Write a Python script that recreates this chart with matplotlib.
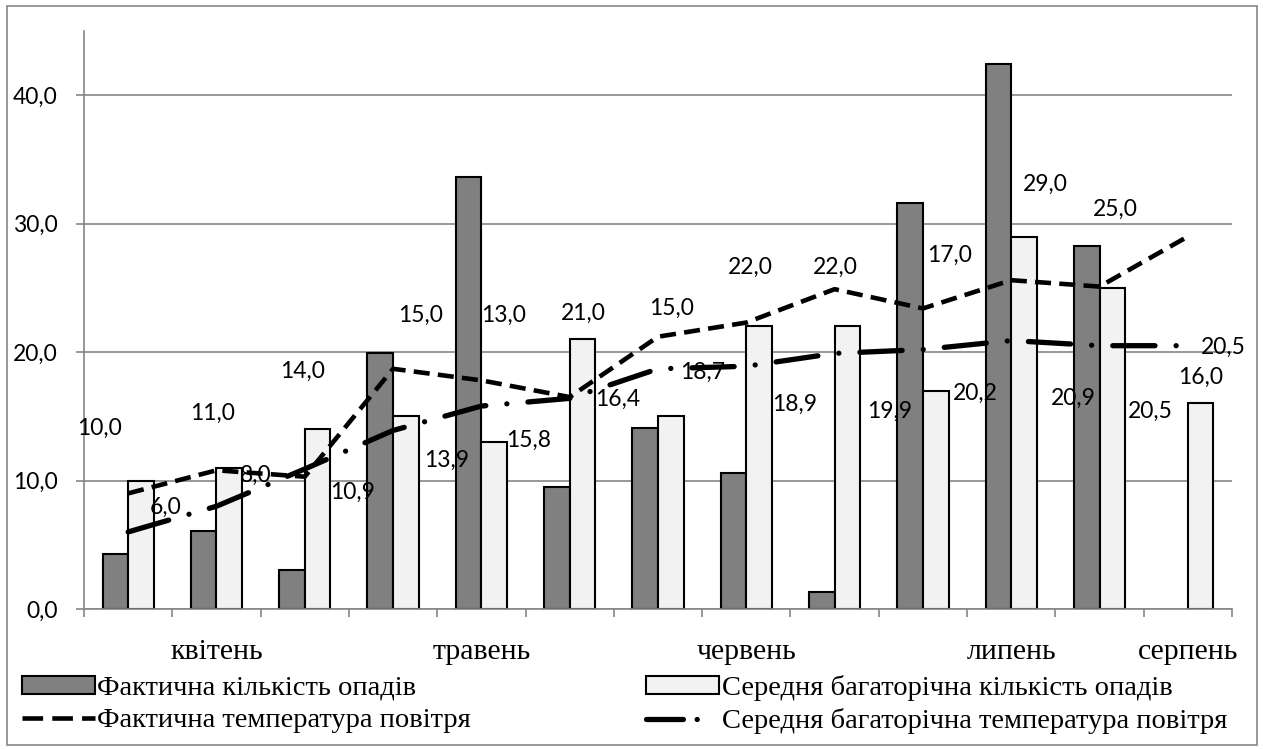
import numpy as np
import matplotlib
matplotlib.use('Agg')
import matplotlib.pyplot as plt
from matplotlib.patches import Rectangle, Patch
from matplotlib.lines import Line2D

# ============================================================
#  数据
# ============================================================
months = ['квітень', 'травень', 'червень', 'липень', 'серпень']
month_idx = [1, 4, 7, 10, 12]          # 月份标签所在的旬编号

precip_actual = [4.3, 6.1, 3.0, 19.9, 33.6, 9.5, 14.1, 10.6, 1.3, 31.6, 42.4, 28.3, np.nan]
precip_avg = [10.0, 11.0, 14.0, 15.0, 13.0, 21.0, 15.0, 22.0, 22.0, 17.0, 29.0, 25.0, 16.0]
temp_actual = [9.0, 10.8, 10.3, 18.7, 17.8, 16.5, 21.2, 22.3, 24.9, 23.4, 25.6, 25.1, 29.0]
temp_avg = [6.0, 8.0, 10.9, 13.9, 15.8, 16.4, 18.7, 18.9, 19.9, 20.2, 20.9, 20.5, 20.5]

series_names = ['Фактична кількість опадів',
                'Середня багаторічна кількість опадів',
                'Фактична температура повітря',
                'Середня багаторічна температура повітря']

# 标签位置（数据坐标）
precip_lbl_xy = [(-0.32, 14.1), (0.96, 15.2), (1.98, 18.5), (3.31, 22.9), (4.25, 22.9),
                 (5.15, 23.0), (6.15, 23.4), (7.05, 26.6), (8.01, 26.6), (9.30, 27.5),
                 (10.39, 33.1), (11.18, 31.1), (12.14, 18.0)]
temp_lbl_xy = [(0.42, 7.9), (1.44, 10.4), (2.54, 9.1), (3.61, 11.6), (4.53, 13.1),
               (5.54, 16.3), (6.51, 18.4), (7.55, 15.9), (8.62, 15.4), (9.59, 16.8),
               (10.70, 16.4), (11.58, 15.4), (12.40, 20.4)]

# ============================================================
#  样式
# ============================================================
W, H = 1263, 749
NUM_FONT = ['Lato', 'DejaVu Sans']
TXT_FONT = ['Liberation Serif', 'DejaVu Serif']
GRID_C = '#868686'
DARK = '#808080'
LIGHT = '#F2F2F2'
DASH = (0, (3.5, 1.8))
DASHDOT = (0, (8, 4, 0.01, 4))

fig = plt.figure(figsize=(W / 100, H / 100), dpi=100)
ax = fig.add_axes([84 / W, 1 - 609 / H, (1232 - 84) / W, (609 - 31) / H])

n = len(precip_avg)
x = np.arange(n)
bw = 0.29

ax.bar(x - bw / 2, precip_actual, bw, color=DARK, edgecolor='black', linewidth=1.5, zorder=2)
ax.bar(x + bw / 2, precip_avg, bw, color=LIGHT, edgecolor='black', linewidth=1.5, zorder=2)
ax.plot(x, temp_actual, color='black', linewidth=3.3, linestyle=DASH, zorder=3)
ax.plot(x, temp_avg, color='black', linewidth=3.8, linestyle=DASHDOT,
        dash_capstyle='round', zorder=3)

for v, (lx, ly) in zip(precip_avg, precip_lbl_xy):
    ax.text(lx, ly, f'{v:.1f}'.replace('.', ','), ha='center', va='center',
            fontsize=16.5, family=NUM_FONT, zorder=4)
for v, (lx, ly) in zip(temp_avg, temp_lbl_xy):
    ax.text(lx, ly, f'{v:.1f}'.replace('.', ','), ha='center', va='center',
            fontsize=16.5, family=NUM_FONT, zorder=4)

# 坐标轴
ax.set_xlim(-0.5, n - 0.5)
ax.set_ylim(0, 45)
ax.set_yticks([0, 10, 20, 30, 40])
ax.set_yticklabels([f'{t:.1f}'.replace('.', ',') for t in [0, 10, 20, 30, 40]],
                   family=NUM_FONT, fontsize=16.5)
ax.set_xticks(np.arange(n + 1) - 0.5)
ax.set_xticklabels([])
ax.tick_params(axis='both', color=GRID_C, length=6, width=1.2, direction='out')
ax.tick_params(axis='y', pad=13)
ax.grid(axis='y', color=GRID_C, linewidth=1.2, zorder=0)
ax.set_axisbelow(True)
for s in ['top', 'right']:
    ax.spines[s].set_visible(False)
for s in ['left', 'bottom']:
    ax.spines[s].set_color(GRID_C)
    ax.spines[s].set_linewidth(1.2)

for m, i in zip(months, month_idx):
    ax.text(i, -0.074, m, transform=ax.get_xaxis_transform(), ha='center', va='center',
            fontsize=21.5, family=TXT_FONT)

# 图例（两列）
handles = [Patch(facecolor=DARK, edgecolor='black', linewidth=1.5),
           Line2D([], [], color='black', linewidth=3.3, linestyle=(0, (4.5, 2))),
           Patch(facecolor=LIGHT, edgecolor='black', linewidth=1.5),
           Line2D([], [], color='black', linewidth=3.8, linestyle=(0, (7, 2.6, 0.01, 10)),
                  dash_capstyle='round')]
labels = [series_names[0], series_names[2], series_names[1], series_names[3]]
fig.legend(handles, labels, ncol=2, loc='upper left', bbox_to_anchor=(22 / W, 1 - 675 / H),
           frameon=False, prop={'family': TXT_FONT, 'size': 20.5}, handlelength=2.55,
           handleheight=0.55, handletextpad=0.1, columnspacing=6.15, labelspacing=0.24,
           borderaxespad=0, borderpad=0)

# 外框
fig.patches.append(Rectangle((7 / W, 4 / H), 1250 / W, 739 / H, transform=fig.transFigure,
                             fill=False, edgecolor=GRID_C, linewidth=1.2))

fig.savefig('out.png', dpi=100)
